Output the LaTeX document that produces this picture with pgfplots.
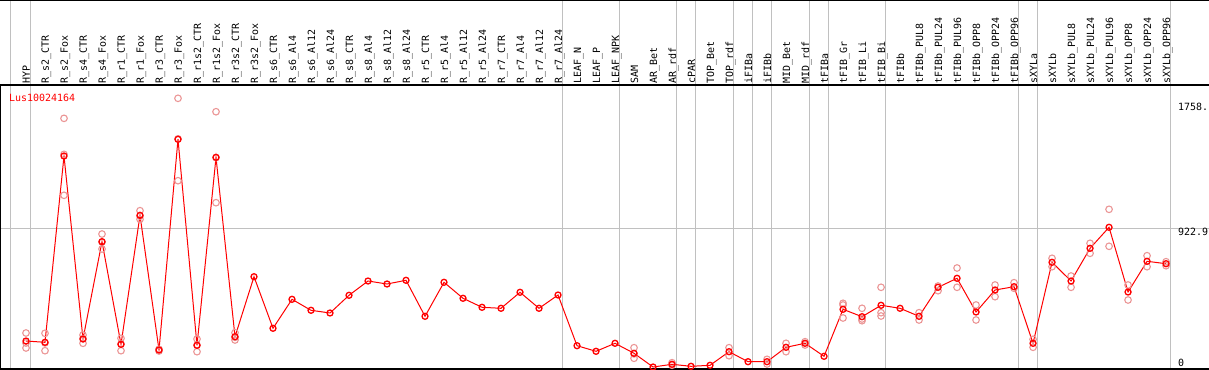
\documentclass[border=0pt]{standalone}
\usepackage{pgfplots}
\pgfplotsset{compat=1.18}
\usepackage{fontspec}
\setmainfont{DejaVu Sans Mono}
\definecolor{rep}{RGB}{235,150,150}
\definecolor{gridg}{RGB}{192,192,192}
\tikzset{lbl/.style={rotate=90, anchor=base west, inner sep=0pt, font=\fontsize{10}{12}\selectfont}}
\newcommand{\lab}[2]{\node[lbl] at (axis cs:#1.21,1884) {#2};}
\begin{document}
\begin{tikzpicture}
\begin{axis}[
  scale only axis, width=1209bp, height=370bp,
  xmin=-0.3684, xmax=63.263, ymin=-19.92, ymax=2436.9,
  axis line style={draw=none},
  xtick={0.195,1.247,29.247,32.247,35.247,36.247,38.247,39.247,40.247,42.247,43.247,46.247,53.247,54.247,61.247},
  ytick={922.9},
  xticklabels={}, yticklabels={},
  major tick length=0pt,
  grid=major, major grid style={draw=gridg, line width=1bp},
  clip=false,
]
% frame lines
\draw[black, line width=1.2bp] (axis cs:-0.3684,2433.6) -- (axis cs:63.263,2433.6);
\draw[black, line width=1.5bp] (axis cs:-0.3684,1872.5) -- (axis cs:63.263,1872.5);
\draw[black, line width=2bp] (axis cs:-0.3684,-11.3) -- (axis cs:63.263,-11.3);
\draw[black, line width=1.2bp] (axis cs:-0.342,1872.5) -- (axis cs:-0.342,-19.92);
% replicates
\addplot[only marks, mark=o, mark size=3.3bp, mark options={draw=rep, line width=1.1bp}] coordinates {
(1,225.8)(1,159.4)(1,126.2)
(2,223.8)(2,108.2)(2,160)
(3,1651)(3,1140)(3,1412)
(4,212.5)(4,157.4)(4,188)
(5,883)(5,783.5)(5,830)
(6,190.6)(6,108.2)(6,153)
(7,1038)(7,980.7)(7,1002)
(8,117.5)(8,106.2)(8,115)
(9,1784)(9,1237)(9,1515)
(10,185.9)(10,101.6)(10,145)
(11,1695)(11,1091)(11,1390)
(12,227.8)(12,179.3)(12,197)
(33,128.2)(33,57.8)(33,87)
(35,28.6)(35,11.3)
(38,128.2)(38,75)
(40,51)(40,20)
(41,157.4)(41,101.6)
(42,168)(42,146)
(44,423)(44,411.7)(44,325.4)
(45,389.8)(45,307.4)(45,318.7)
(46,529.2)(46,360.6)(46,338.6)
(48,360.6)(48,312.1)
(49,537.8)(49,506.6)
(50,657.4)(50,529.2)
(51,411.7)(51,312.1)
(52,544.5)(52,466.8)
(53,559.8)(53,522.6)
(54,183.9)(54,130.8)
(55,721.8)(55,666)
(56,604.2)(56,529.2)
(57,821.4)(57,755)
(58,1047)(58,801.4)
(59,544.5)(59,444.9)
(60,739)(60,666)
(61,699.2)(61,672.6)
};
% means
\addplot[red, line width=1bp, mark=o, mark size=3bp, mark options={draw=red, line width=1.3bp}] coordinates {
(1,172.6)(2,164)(3,1401)(4,185.9)(5,832)(6,150.7)(7,1007)(8,112.9)(9,1512)(10,144.1)
(11,1392)(12,201.2)(13,599.6)(14,257)(15,449.5)(16,376.5)(17,358.6)(18,476.1)(19,571)(20,551.1)
(21,575.7)(22,336.6)(23,562.4)(24,456.2)(25,396.4)(26,389.8)(27,496)(28,389.8)(29,478)(30,141.4)
(31,104.2)(32,157.4)(33,91)(34,0)(35,17.9)(36,4.6)(37,11.3)(38,101.6)(39,35.2)(40,35.2)
(41,130.8)(42,157.4)(43,71)(44,383.1)(45,334)(46,409.7)(47,389.8)(48,336.6)(49,529.2)(50,589)
(51,365.2)(52,511.3)(53,533.2)(54,157.4)(55,695.2)(56,571)(57,788.2)(58,927.6)(59,498)(60,701.8)
(61,685.9)
};
% column labels
\lab{1}{HYP}
\lab{2}{R\_s2\_CTR}
\lab{3}{R\_s2\_Fox}
\lab{4}{R\_s4\_CTR}
\lab{5}{R\_s4\_Fox}
\lab{6}{R\_r1\_CTR}
\lab{7}{R\_r1\_Fox}
\lab{8}{R\_r3\_CTR}
\lab{9}{R\_r3\_Fox}
\lab{10}{R\_r1s2\_CTR}
\lab{11}{R\_r1s2\_Fox}
\lab{12}{R\_r3s2\_CTR}
\lab{13}{R\_r3s2\_Fox}
\lab{14}{R\_s6\_CTR}
\lab{15}{R\_s6\_Al4}
\lab{16}{R\_s6\_Al12}
\lab{17}{R\_s6\_Al24}
\lab{18}{R\_s8\_CTR}
\lab{19}{R\_s8\_Al4}
\lab{20}{R\_s8\_Al12}
\lab{21}{R\_s8\_Al24}
\lab{22}{R\_r5\_CTR}
\lab{23}{R\_r5\_Al4}
\lab{24}{R\_r5\_Al12}
\lab{25}{R\_r5\_Al24}
\lab{26}{R\_r7\_CTR}
\lab{27}{R\_r7\_Al4}
\lab{28}{R\_r7\_Al12}
\lab{29}{R\_r7\_Al24}
\lab{30}{LEAF\_N}
\lab{31}{LEAF\_P}
\lab{32}{LEAF\_NPK}
\lab{33}{SAM}
\lab{34}{AR\_Bet}
\lab{35}{AR\_rdf}
\lab{36}{cPAR}
\lab{37}{TOP\_Bet}
\lab{38}{TOP\_rdf}
\lab{39}{iFIBa}
\lab{40}{iFIBb}
\lab{41}{MID\_Bet}
\lab{42}{MID\_rdf}
\lab{43}{tFIBa}
\lab{44}{tFIB\_Gr}
\lab{45}{tFIB\_Li}
\lab{46}{tFIB\_Bi}
\lab{47}{tFIBb}
\lab{48}{tFIBb\_PUL8}
\lab{49}{tFIBb\_PUL24}
\lab{50}{tFIBb\_PUL96}
\lab{51}{tFIBb\_OPP8}
\lab{52}{tFIBb\_OPP24}
\lab{53}{tFIBb\_OPP96}
\lab{54}{sXYLa}
\lab{55}{sXYLb}
\lab{56}{sXYLb\_PUL8}
\lab{57}{sXYLb\_PUL24}
\lab{58}{sXYLb\_PUL96}
\lab{59}{sXYLb\_OPP8}
\lab{60}{sXYLb\_OPP24}
\lab{61}{sXYLb\_OPP96}
% other texts
\node[anchor=base west, inner sep=0pt, text=red, font=\fontsize{10}{12}\selectfont] at (axis cs:0.105,1763) {Lus10024164};
\node[anchor=north west, inner sep=0pt, font=\fontsize{10}{12}\selectfont] at (axis cs:61.63,1755) {1758.};
\node[anchor=north west, inner sep=0pt, font=\fontsize{10}{12}\selectfont] at (axis cs:61.63,921) {922.9};
\node[anchor=north west, inner sep=0pt, font=\fontsize{10}{12}\selectfont] at (axis cs:61.63,55) {0};
\end{axis}
\pgfresetboundingbox
\path (0,0) rectangle (1209bp,370bp);
\end{tikzpicture}
\end{document}
